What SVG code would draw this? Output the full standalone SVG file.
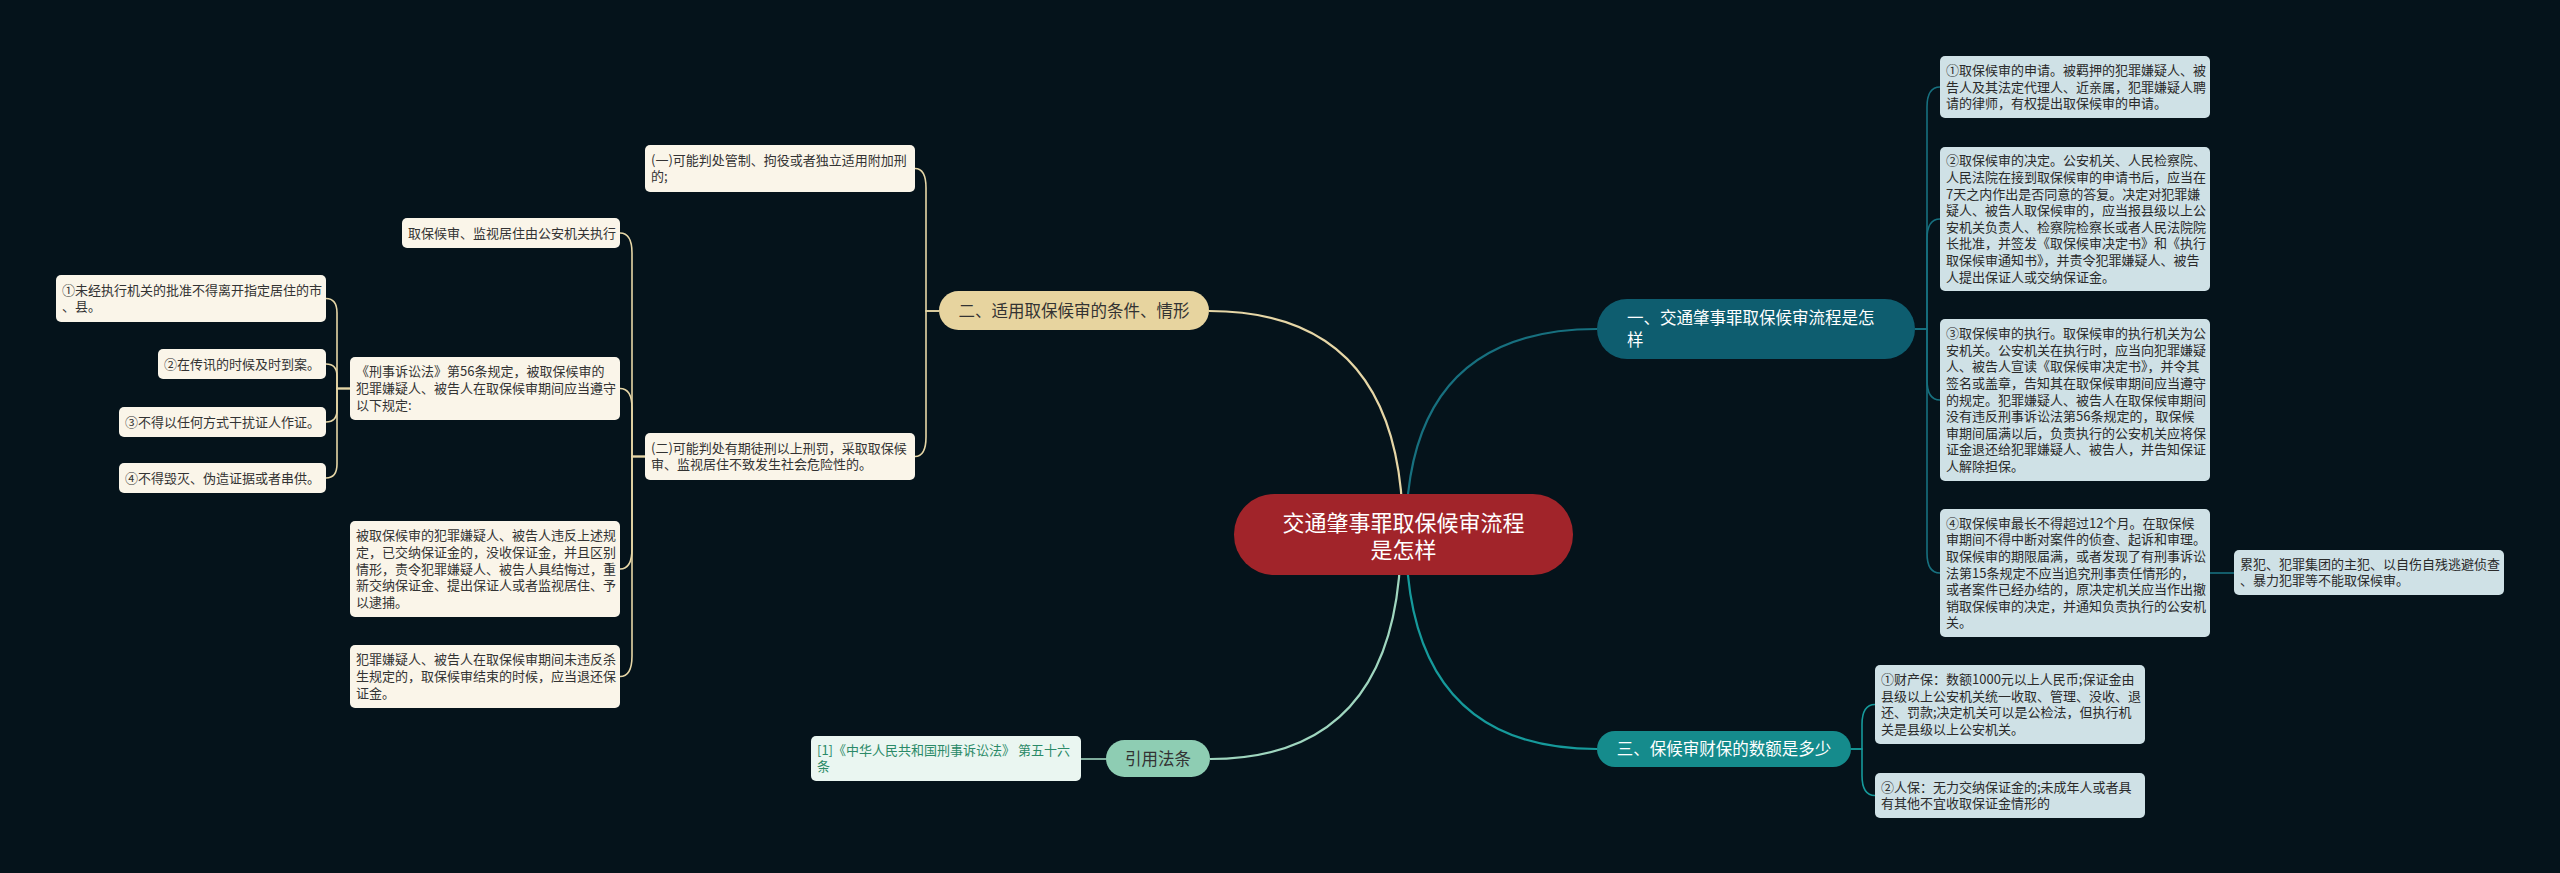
<svg xmlns="http://www.w3.org/2000/svg" width="2560" height="873" viewBox="0 0 2560 873">
<style>
text{font-family:"Noto Sans CJK SC","Noto Sans",sans-serif;}
.leafL{fill:#faf5e9;}
.leafR{fill:#cfe1e6;}
.tL{font-size:13px;fill:#333333;}
.tR{font-size:13px;fill:#2a2a2a;}
.cite{fill:#eaf6f1;}
.tC{font-size:13px;fill:#2b8a68;}
.br{font-size:16.5px;}
.e{fill:none;stroke-width:1.6;}
.eB{stroke:#e6d6a6;}
.eT1{stroke:#17707f;}
.eT3{stroke:#169a9b;}
.eM{stroke:#9fd6bf;}
.main{fill:none;stroke-width:2.2;}
</style>
<rect x="0" y="0" width="2560" height="873" fill="#05131b"/>

<g id="connectors">
  <path class="main eB" d="M1403 534 Q1403 311 1209 311"/>
  <path class="main eT1" d="M1406 534 Q1406 329 1597 329"/>
  <path class="main eT3" d="M1406 534 Q1406 749 1597 749"/>
  <path class="main eM" d="M1401 534 Q1401 759 1210 759"/>
  <path class="e eB" d="M939 311 H926 V188 Q926 168.5 915 168.5"/>
  <path class="e eB" d="M939 311 H926 V437 Q926 456.5 915 456.5"/>
  <path class="e eB" d="M645 456.5 H632 V253 Q632 233 620 233"/>
  <path class="e eB" d="M645 456.5 H632 V408 Q632 388.5 620 388.5"/>
  <path class="e eB" d="M645 456.5 H632 V549 Q632 569 620 569"/>
  <path class="e eB" d="M645 456.5 H632 V656 Q632 676.5 620 676.5"/>
  <path class="e eB" d="M350 388.5 H337 V313 Q337 298.5 326 298.5"/>
  <path class="e eB" d="M350 388.5 H337 V376 Q337 364 326 364"/>
  <path class="e eB" d="M350 388.5 H337 V410 Q337 422 326 422"/>
  <path class="e eB" d="M350 388.5 H337 V464 Q337 478 326 478"/>
  <path class="e eT1" d="M1915 329 H1927 V107 Q1927 87 1940 87"/>
  <path class="e eT1" d="M1915 329 H1927 V239 Q1927 219 1940 219"/>
  <path class="e eT1" d="M1915 329 H1927 V380 Q1927 400 1940 400"/>
  <path class="e eT1" d="M1915 329 H1927 V553 Q1927 573 1940 573"/>
  <path class="e eT1" d="M2210 573 H2234"/>
  <path class="e eT3" d="M1851 749 H1862 V724.5 Q1862 704.5 1875 704.5"/>
  <path class="e eT3" d="M1851 749 H1862 V775.5 Q1862 795.5 1875 795.5"/>
  <path class="e eM" d="M1107 759 H1081"/>
</g>

<g id="center">
  <rect x="1234" y="494" width="339" height="81" rx="40" fill="#a1242a"/>
  <text x="1403.5" y="531" font-size="22" fill="#ffffff" text-anchor="middle">交通肇事罪取保候审流程</text>
  <text x="1403.5" y="558" font-size="22" fill="#ffffff" text-anchor="middle">是怎样</text>
</g>

<g id="branch1">
  <rect x="1597" y="299" width="318" height="60" rx="30" fill="#0e5d6f"/>
  <text class="br" x="1627" y="324" fill="#ffffff">一、交通肇事罪取保候审流程是怎</text>
  <text class="br" x="1627" y="346" fill="#ffffff">样</text>
</g>
<g id="branch2">
  <rect x="939" y="291" width="270" height="39" rx="19.5" fill="#e7d49f"/>
  <text class="br" x="1074" y="317" fill="#333333" text-anchor="middle">二、适用取保候审的条件、情形</text>
</g>
<g id="branch3">
  <rect x="1597" y="731" width="254" height="36" rx="18" fill="#158b8c"/>
  <text class="br" x="1724" y="755" fill="#ffffff" text-anchor="middle">三、保候审财保的数额是多少</text>
</g>
<g id="branch4">
  <rect x="1106" y="740" width="104" height="37" rx="18.5" fill="#8ecdb3"/>
  <text class="br" x="1158" y="764.5" fill="#333333" text-anchor="middle">引用法条</text>
</g>

<g id="cite1">
  <rect class="cite" x="811" y="736" width="270" height="45" rx="5"/>
  <text class="tC" x="817" y="754.7">[1]《中华人民共和国刑事诉讼法》 第五十六</text>
  <text class="tC" x="817" y="771.3">条</text>
</g>

<g id="b2-1">
  <rect class="leafL" x="645" y="145" width="270" height="47" rx="5"/>
  <text class="tL" x="651" y="164.7">(一)可能判处管制、拘役或者独立适用附加刑</text>
  <text class="tL" x="651" y="181.3">的;</text>
</g>
<g id="b2-2">
  <rect class="leafL" x="645" y="433" width="270" height="47" rx="5"/>
  <text class="tL" x="651" y="452.7">(二)可能判处有期徒刑以上刑罚，采取取保候</text>
  <text class="tL" x="651" y="469.3">审、监视居住不致发生社会危险性的。</text>
</g>
<g id="b2-2-1">
  <rect class="leafL" x="402" y="218" width="218" height="30" rx="5"/>
  <text class="tL" x="408" y="237.5">取保候审、监视居住由公安机关执行</text>
</g>
<g id="b2-2-2">
  <rect class="leafL" x="350" y="357" width="270" height="63" rx="5"/>
  <text class="tL" x="356" y="376.4">《刑事诉讼法》第56条规定，被取保候审的</text>
  <text class="tL" x="356" y="393">犯罪嫌疑人、被告人在取保候审期间应当遵守</text>
  <text class="tL" x="356" y="409.6">以下规定:</text>
</g>
<g id="b2-2-3">
  <rect class="leafL" x="350" y="521" width="270" height="96" rx="5"/>
  <text class="tL" x="356" y="540.3">被取保候审的犯罪嫌疑人、被告人违反上述规</text>
  <text class="tL" x="356" y="556.9">定，已交纳保证金的，没收保证金，并且区别</text>
  <text class="tL" x="356" y="573.5">情形，责令犯罪嫌疑人、被告人具结悔过，重</text>
  <text class="tL" x="356" y="590.1">新交纳保证金、提出保证人或者监视居住、予</text>
  <text class="tL" x="356" y="606.7">以逮捕。</text>
</g>
<g id="b2-2-4">
  <rect class="leafL" x="350" y="645" width="270" height="63" rx="5"/>
  <text class="tL" x="356" y="664.4">犯罪嫌疑人、被告人在取保候审期间未违反杀</text>
  <text class="tL" x="356" y="681">生规定的，取保候审结束的时候，应当退还保</text>
  <text class="tL" x="356" y="697.6">证金。</text>
</g>
<g id="rule1">
  <rect class="leafL" x="56" y="275" width="270" height="47" rx="5"/>
  <text class="tL" x="62" y="294.7">①未经执行机关的批准不得离开指定居住的市</text>
  <text class="tL" x="62" y="311.3">、县。</text>
</g>
<g id="rule2">
  <rect class="leafL" x="158" y="349" width="168" height="30" rx="5"/>
  <text class="tL" x="164" y="368.5">②在传讯的时候及时到案。</text>
</g>
<g id="rule3">
  <rect class="leafL" x="119" y="407" width="207" height="30" rx="5"/>
  <text class="tL" x="125" y="426.5">③不得以任何方式干扰证人作证。</text>
</g>
<g id="rule4">
  <rect class="leafL" x="119" y="463" width="207" height="30" rx="5"/>
  <text class="tL" x="125" y="482.5">④不得毁灭、伪造证据或者串供。</text>
</g>

<g id="b1-1">
  <rect class="leafR" x="1940" y="56" width="270" height="62" rx="5"/>
  <text class="tR" x="1946" y="74.9">①取保候审的申请。被羁押的犯罪嫌疑人、被</text>
  <text class="tR" x="1946" y="91.5">告人及其法定代理人、近亲属，犯罪嫌疑人聘</text>
  <text class="tR" x="1946" y="108.1">请的律师，有权提出取保候审的申请。</text>
</g>
<g id="b1-2">
  <rect class="leafR" x="1940" y="147" width="270" height="144" rx="5"/>
  <text class="tR" x="1946" y="165.4">②取保候审的决定。公安机关、人民检察院、</text>
  <text class="tR" x="1946" y="182">人民法院在接到取保候审的申请书后，应当在</text>
  <text class="tR" x="1946" y="198.6">7天之内作出是否同意的答复。决定对犯罪嫌</text>
  <text class="tR" x="1946" y="215.2">疑人、被告人取保候审的，应当报县级以上公</text>
  <text class="tR" x="1946" y="231.8">安机关负责人、检察院检察长或者人民法院院</text>
  <text class="tR" x="1946" y="248.4">长批准，并签发《取保候审决定书》和《执行</text>
  <text class="tR" x="1946" y="265">取保候审通知书》，并责令犯罪嫌疑人、被告</text>
  <text class="tR" x="1946" y="281.6">人提出保证人或交纳保证金。</text>
</g>
<g id="b1-3">
  <rect class="leafR" x="1940" y="319" width="270" height="162" rx="5"/>
  <text class="tR" x="1946" y="338.1">③取保候审的执行。取保候审的执行机关为公</text>
  <text class="tR" x="1946" y="354.7">安机关。公安机关在执行时，应当向犯罪嫌疑</text>
  <text class="tR" x="1946" y="371.3">人、被告人宣读《取保候审决定书》，并令其</text>
  <text class="tR" x="1946" y="387.9">签名或盖章，告知其在取保候审期间应当遵守</text>
  <text class="tR" x="1946" y="404.5">的规定。犯罪嫌疑人、被告人在取保候审期间</text>
  <text class="tR" x="1946" y="421.1">没有违反刑事诉讼法第56条规定的，取保候</text>
  <text class="tR" x="1946" y="437.7">审期间届满以后，负责执行的公安机关应将保</text>
  <text class="tR" x="1946" y="454.3">证金退还给犯罪嫌疑人、被告人，并告知保证</text>
  <text class="tR" x="1946" y="470.9">人解除担保。</text>
</g>
<g id="b1-4">
  <rect class="leafR" x="1940" y="509" width="270" height="128" rx="5"/>
  <text class="tR" x="1946" y="527.7">④取保候审最长不得超过12个月。在取保候</text>
  <text class="tR" x="1946" y="544.3">审期间不得中断对案件的侦查、起诉和审理。</text>
  <text class="tR" x="1946" y="560.9">取保候审的期限届满，或者发现了有刑事诉讼</text>
  <text class="tR" x="1946" y="577.5">法第15条规定不应当追究刑事责任情形的，</text>
  <text class="tR" x="1946" y="594.1">或者案件已经办结的，原决定机关应当作出撤</text>
  <text class="tR" x="1946" y="610.7">销取保候审的决定，并通知负责执行的公安机</text>
  <text class="tR" x="1946" y="627.3">关。</text>
</g>
<g id="b1-4-1">
  <rect class="leafR" x="2234" y="550" width="270" height="45" rx="5"/>
  <text class="tR" x="2240" y="568.7">累犯、犯罪集团的主犯、以自伤自残逃避侦查</text>
  <text class="tR" x="2240" y="585.3">、暴力犯罪等不能取保候审。</text>
</g>
<g id="b3-1">
  <rect class="leafR" x="1875" y="665" width="270" height="79" rx="5"/>
  <text class="tR" x="1881" y="684.1">①财产保：数额1000元以上人民币;保证金由</text>
  <text class="tR" x="1881" y="700.7">县级以上公安机关统一收取、管理、没收、退</text>
  <text class="tR" x="1881" y="717.3">还、罚款;决定机关可以是公检法，但执行机</text>
  <text class="tR" x="1881" y="733.9">关是县级以上公安机关。</text>
</g>
<g id="b3-2">
  <rect class="leafR" x="1875" y="773" width="270" height="45" rx="5"/>
  <text class="tR" x="1881" y="791.7">②人保：无力交纳保证金的;未成年人或者具</text>
  <text class="tR" x="1881" y="808.3">有其他不宜收取保证金情形的</text>
</g>
</svg>
